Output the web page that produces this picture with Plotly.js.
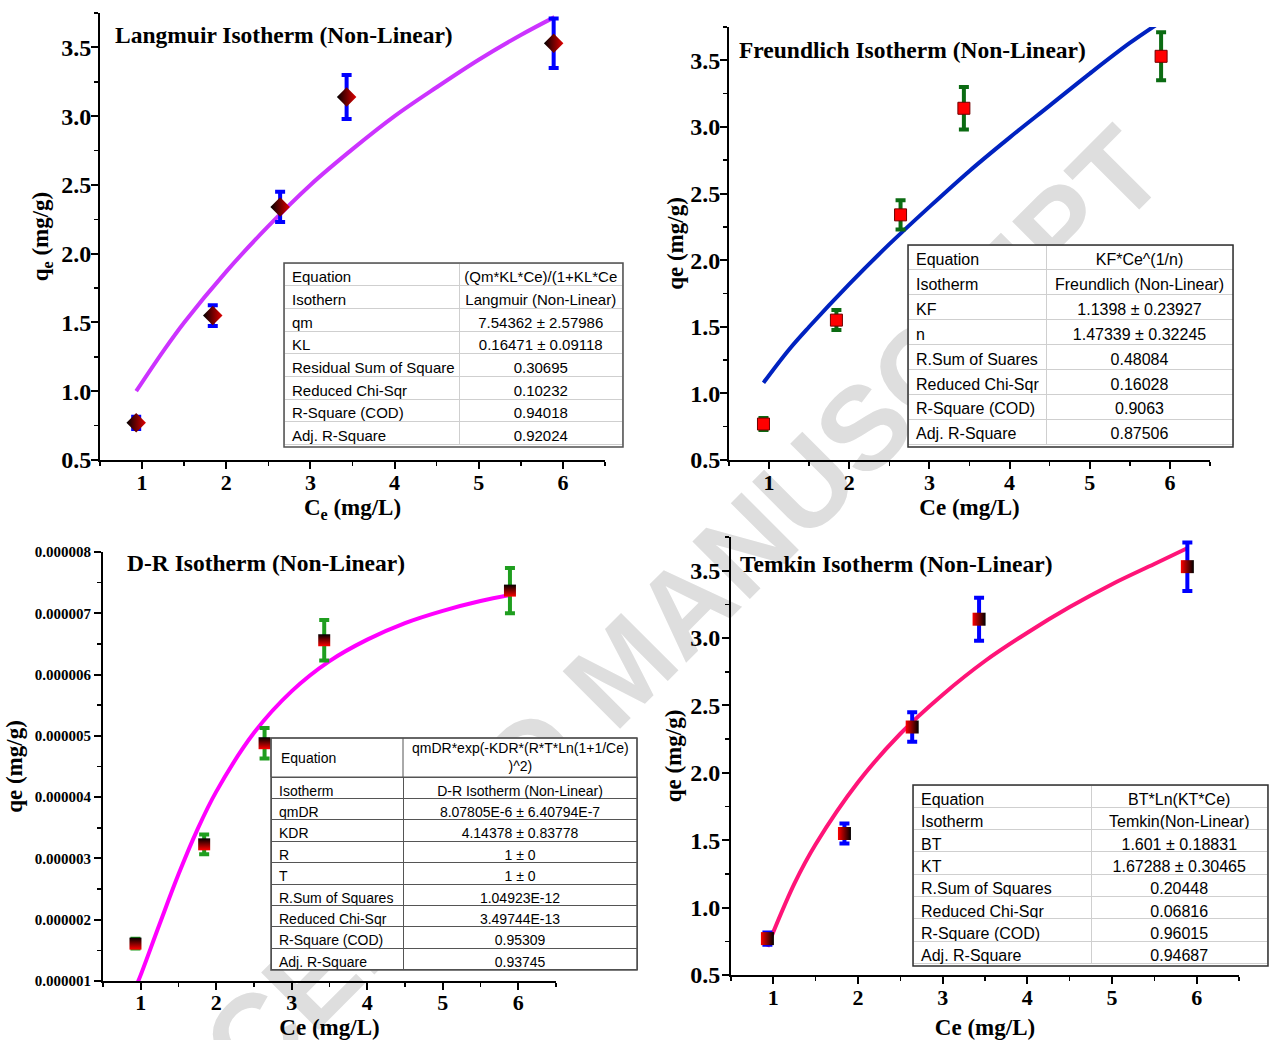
<!DOCTYPE html>
<html>
<head>
<meta charset="utf-8">
<script src="https://cdn.plot.ly/plotly-3.0.1.min.js"></script>
<style>html,body{margin:0;padding:0;background:#fff;}#chart{width:1270px;height:1040px;}</style>
</head>
<body>
<div id="chart"></div>
<script>
const ce      = [0.93, 1.84, 2.64, 3.43, 5.89];
const qe      = [0.77, 1.55, 2.34, 3.14, 3.53];
const qeErr   = [0.045, 0.075, 0.11, 0.16, 0.18];
const qeDR    = [1.61e-6, 3.23e-6, 4.88e-6, 6.56e-6, 7.37e-6];
const qeDRErr = [0.08e-6, 0.16e-6, 0.25e-6, 0.33e-6, 0.37e-6];

// ---- fitted curves ----
const langFitX = [0.93, 1.25, 1.5, 2, 2.5, 3, 3.5, 4, 4.5, 5, 5.5, 5.9];
const langFitY = [1.00, 1.29, 1.50, 1.87, 2.20, 2.50, 2.76, 3.00, 3.21, 3.41, 3.59, 3.72];
const freFitX  = [0.93, 1.25, 1.5, 2, 2.5, 3, 3.5, 4, 4.5, 5, 5.5, 5.84];
const freFitY  = [1.08, 1.33, 1.50, 1.82, 2.12, 2.40, 2.67, 2.92, 3.16, 3.40, 3.63, 3.77];
const drFitX   = [0.93, 1.0, 1.25, 1.5, 1.75, 2, 2.5, 3, 3.5, 4, 4.5, 5, 5.5, 5.9];
const drFitY   = [0.89e-6, 1.10e-6, 1.93e-6, 2.74e-6, 3.47e-6, 4.09e-6, 5.05e-6, 5.73e-6, 6.22e-6, 6.57e-6, 6.84e-6, 7.04e-6, 7.20e-6, 7.30e-6];
const temFitX  = [0.93, 1.0, 1.25, 1.5, 2, 2.5, 3, 3.5, 4, 4.5, 5, 5.5, 5.9];
const temFitY  = [0.71, 0.82, 1.18, 1.47, 1.93, 2.29, 2.58, 2.83, 3.04, 3.23, 3.40, 3.55, 3.67];

// ---- panel titles ----
const panelTitles = ['Langmuir Isotherm (Non-Linear)', 'Freundlich Isotherm (Non-Linear)', 'D-R Isotherm (Non-Linear)', 'Temkin Isotherm (Non-Linear)'];

// ---- fit tables ----
const langLabels = ['Equation', 'Isothern', 'qm', 'KL', 'Residual Sum of Square', 'Reduced Chi-Sqr', 'R-Square (COD)', 'Adj. R-Square'];
const langValues = ['(Qm*KL*Ce)/(1+KL*Ce', 'Langmuir (Non-Linear)', '7.54362 ± 2.57986', '0.16471 ± 0.09118', '0.30695', '0.10232', '0.94018', '0.92024'];
const freLabels  = ['Equation', 'Isotherm', 'KF', 'n', 'R.Sum of Suares', 'Reduced Chi-Sqr', 'R-Square (COD)', 'Adj. R-Square'];
const freValues  = ['KF*Ce^(1/n)', 'Freundlich (Non-Linear)', '1.1398 ± 0.23927', '1.47339 ± 0.32245', '0.48084', '0.16028', '0.9063', '0.87506'];
const drLabels   = ['Equation', 'Isotherm', 'qmDR', 'KDR', 'R', 'T', 'R.Sum of Squares', 'Reduced Chi-Sqr', 'R-Square (COD)', 'Adj. R-Square'];
const drValues   = ['qmDR*exp(-KDR*(R*T*Ln(1+1/Ce)<br>)^2)', 'D-R Isotherm (Non-Linear)', '8.07805E-6 ± 6.40794E-7', '4.14378 ± 0.83778', '1 ± 0', '1 ± 0', '1.04923E-12', '3.49744E-13', '0.95309', '0.93745'];
const temLabels  = ['Equation', 'Isotherm', 'BT', 'KT', 'R.Sum of Squares', 'Reduced Chi-Sqr', 'R-Square (COD)', 'Adj. R-Square'];
const temValues  = ['BT*Ln(KT*Ce)', 'Temkin(Non-Linear)', '1.601 ± 0.18831', '1.67288 ± 0.30465', '0.20448', '0.06816', '0.96015', '0.94687'];

const watermarkText = 'ACCEPTED MANUSCRIPT';

// ---- helpers ----
const W = 1270, H = 1040;
const px = v => v / W;
const py = v => 1 - v / H;
const SERIF = 'Liberation Serif, "Times New Roman", serif';
const SANS = 'Liberation Sans, Arial, sans-serif';
const nb = s => s.replace(/ /g, '\u00a0');   // keep each table text on one line

function pointsTrace(y, err, xa, ya, marker, errColor) {
  return {
    type: 'scatter', mode: 'markers', x: ce, y: y, xaxis: xa, yaxis: ya,
    marker: marker,
    error_y: {type: 'data', array: err, visible: true, color: errColor, thickness: 4, width: 5},
    showlegend: false, hoverinfo: 'x+y'
  };
}
function fitTrace(fx, fy, xa, ya, color) {
  return {
    type: 'scatter', mode: 'lines', x: fx, y: fy, xaxis: xa, yaxis: ya,
    line: {color: color, width: 4, shape: 'spline'}, showlegend: false, hoverinfo: 'skip'
  };
}
function tableTrace(labels, values, x0, x1, y0, y1, colw, fontSize, rowH, lineColor) {
  const L = labels.map(nb), V = values.map(nb);
  return {
    type: 'table',
    domain: {x: [px(x0), px(x1)], y: [py(y1), py(y0)]},
    columnwidth: colw,
    header: {
      values: [L[0], V[0]],
      align: ['left', 'center'],
      height: rowH,
      line: {color: lineColor, width: 1},
      fill: {color: 'white'},
      font: {family: SANS, size: fontSize, color: 'black'}
    },
    cells: {
      values: [L.slice(1), V.slice(1)],
      align: ['left', 'center'],
      height: rowH,
      line: {color: lineColor, width: 1},
      fill: {color: 'white'},
      font: {family: SANS, size: fontSize, color: 'black'}
    }
  };
}
function xAxis(domain, anchor, titleText, standoff, lblStand) {
  return {
    domain: domain, anchor: anchor, range: [0.5, 6.5],
    tick0: 0, dtick: 1,
    showline: true, linecolor: 'black', linewidth: 2, mirror: false,
    ticks: 'outside', ticklen: 7, tickwidth: 2, tickcolor: 'black',
    ticklabelstandoff: lblStand,
    minor: {dtick: 0.5, tick0: 0, ticks: 'outside', ticklen: 4, tickwidth: 1.5, tickcolor: 'black'},
    showgrid: false, zeroline: false, automargin: false, fixedrange: true,
    tickfont: {family: SERIF, size: 22, weight: 'bold', color: 'black'},
    title: {text: titleText, standoff: standoff, font: {family: SERIF, size: 23, weight: 'bold', color: 'black'}}
  };
}
function yAxis(domain, anchor, range, tick0, dtick, minorD, titleText, standoff, tickSize, fmt, lblStand) {
  return {
    domain: domain, anchor: anchor, range: range,
    tick0: tick0, dtick: dtick, tickformat: fmt,
    showline: true, linecolor: 'black', linewidth: 2, mirror: false,
    ticks: 'outside', ticklen: 7, tickwidth: 2, tickcolor: 'black',
    ticklabelstandoff: lblStand,
    minor: {dtick: minorD, tick0: tick0, ticks: 'outside', ticklen: 4, tickwidth: 1.5, tickcolor: 'black'},
    showgrid: false, zeroline: false, automargin: false, fixedrange: true,
    tickfont: {family: SERIF, size: tickSize, weight: 'bold', color: 'black'},
    title: {text: titleText, standoff: standoff, font: {family: SERIF, size: 23, weight: 'bold', color: 'black'}}
  };
}

const data = [
  // Langmuir
  fitTrace(langFitX, langFitY, 'x', 'y', '#cc33ff'),
  pointsTrace(qe, qeErr, 'x', 'y', {symbol: 'diamond', size: 15, color: '#000000', gradient: {type: 'horizontal', color: '#e00000'}, line: {width: 0}}, '#0000ff'),
  // Freundlich
  fitTrace(freFitX, freFitY, 'x2', 'y2', '#0022c0'),
  pointsTrace(qe, qeErr, 'x2', 'y2', {symbol: 'square', size: 12, color: '#ff0000', line: {color: '#700000', width: 1}}, '#0b6b12'),
  // D-R
  fitTrace(drFitX, drFitY, 'x3', 'y3', '#ff00ff'),
  pointsTrace(qeDR, qeDRErr, 'x3', 'y3', {symbol: 'square', size: 12, color: '#000000', gradient: {type: 'vertical', color: '#ff0000'}, line: {width: 0}}, '#1f9e1f'),
  // Temkin
  fitTrace(temFitX, temFitY, 'x4', 'y4', '#ff1478'),
  pointsTrace(qe, qeErr, 'x4', 'y4', {symbol: 'square', size: 13, color: '#ff0000', gradient: {type: 'horizontal', color: '#000000'}, line: {width: 0}}, '#0000ff'),
  // tables
  tableTrace(langLabels, langValues, 284, 623, 263, 450, [176, 163], 15, 22.7, '#cfcfcf'),
  tableTrace(freLabels, freValues, 908, 1233, 245, 450, [138, 187], 16, 24.9, '#cfcfcf'),
  // D-R table: the two-line "Equation" row is drawn above the trace (see annotations/shapes)
  tableTrace(drLabels.slice(1), drValues.slice(1), 271, 637, 777, 973, [132, 234], 14, 21.4, '#555555'),
  tableTrace(temLabels, temValues, 913, 1268, 785, 969, [180, 177], 16, 22.3, '#cfcfcf')
];

function titleAnn(text, x, y) {
  return {xref: 'paper', yref: 'paper', x: px(x), y: py(y), xanchor: 'left', yanchor: 'middle', showarrow: false, text: text,
          font: {family: SERIF, size: 23.5, weight: 'bold', color: 'black'}};
}
const annotations = [
  titleAnn(panelTitles[0], 113, 35),
  titleAnn(panelTitles[1], 737, 50),
  titleAnn(panelTitles[2], 125, 563),
  titleAnn(panelTitles[3], 738, 564),
  // D-R "Equation" row
  {xref: 'paper', yref: 'paper', x: px(279), y: py(758), xanchor: 'left', yanchor: 'middle', showarrow: false,
   text: drLabels[0], font: {family: SANS, size: 14, color: 'black'}},
  {xref: 'paper', yref: 'paper', x: px(520), y: py(757), xanchor: 'center', yanchor: 'middle', showarrow: false,
   text: drValues[0], align: 'center', font: {family: SANS, size: 14, color: 'black'}}
];

function borderRect(x0, x1, y0, y1, color) {
  return {type: 'rect', xref: 'paper', yref: 'paper', x0: px(x0), x1: px(x1), y0: py(y1), y1: py(y0), line: {color: color, width: 1.5}, fillcolor: 'rgba(0,0,0,0)', layer: 'above'};
}

const shapes = [
  {type: 'rect', xref: 'paper', yref: 'paper', x0: 0.284, x1: 0.684, y0: 0.165, y1: 0.565, line: {width: 0}, fillcolor: 'rgba(0,0,0,0)', layer: 'below',
   label: {text: watermarkText, textangle: -45, textposition: 'middle center', font: {family: SANS, size: 118, weight: 'bold', color: '#dedede'}}},
  // D-R equation row background and divider
  {type: 'rect', xref: 'paper', yref: 'paper', x0: px(271), x1: px(637), y0: py(777), y1: py(738), line: {color: '#555555', width: 1}, fillcolor: 'white', layer: 'above'},
  {type: 'line', xref: 'paper', yref: 'paper', x0: px(403), x1: px(403), y0: py(777), y1: py(738), line: {color: '#555555', width: 1}, layer: 'above'},
  borderRect(284, 623, 263, 447, '#505050'),
  borderRect(908, 1233, 245, 447, '#303030'),
  borderRect(271, 637, 738, 970, '#505050'),
  borderRect(913, 1268, 785, 966, '#303030')
];

const layout = {
  width: W, height: H,
  margin: {l: 0, r: 0, t: 0, b: 0},
  paper_bgcolor: 'white', plot_bgcolor: 'rgba(0,0,0,0)',
  showlegend: false,
  xaxis:  xAxis([px(100), px(605)], 'y', 'C<sub>e</sub> (mg/L)', 0, -5),
  yaxis:  yAxis([py(460), py(13)], 'x', [0.5, 3.75], 0.5, 0.5, 0.25, 'q<sub>e</sub> (mg/g)', 6, 24, '.1f', -5),
  xaxis2: xAxis([px(729), px(1210)], 'y2', 'Ce (mg/L)', 0, -5),
  yaxis2: yAxis([py(460), py(27)], 'x2', [0.5, 3.75], 0.5, 0.5, 0.25, 'qe (mg/g)', 0, 24, '.1f', -5),
  xaxis3: xAxis([px(103), px(556)], 'y3', 'Ce (mg/L)', 10, -6),
  yaxis3: yAxis([py(981), py(552)], 'x3', [1e-6, 8e-6], 1e-6, 1e-6, 0.5e-6, 'qe (mg/g)', 6, 15, '.6f', 0),
  xaxis4: xAxis([px(731), px(1239)], 'y4', 'Ce (mg/L)', 13, -5),
  yaxis4: yAxis([py(975), py(537)], 'x4', [0.5, 3.75], 0.5, 0.5, 0.25, 'qe (mg/g)', 2, 24, '.1f', -3),
  annotations: annotations,
  shapes: shapes
};

Plotly.newPlot('chart', data, layout, {displayModeBar: false, staticPlot: true});
</script>
</body>
</html>
